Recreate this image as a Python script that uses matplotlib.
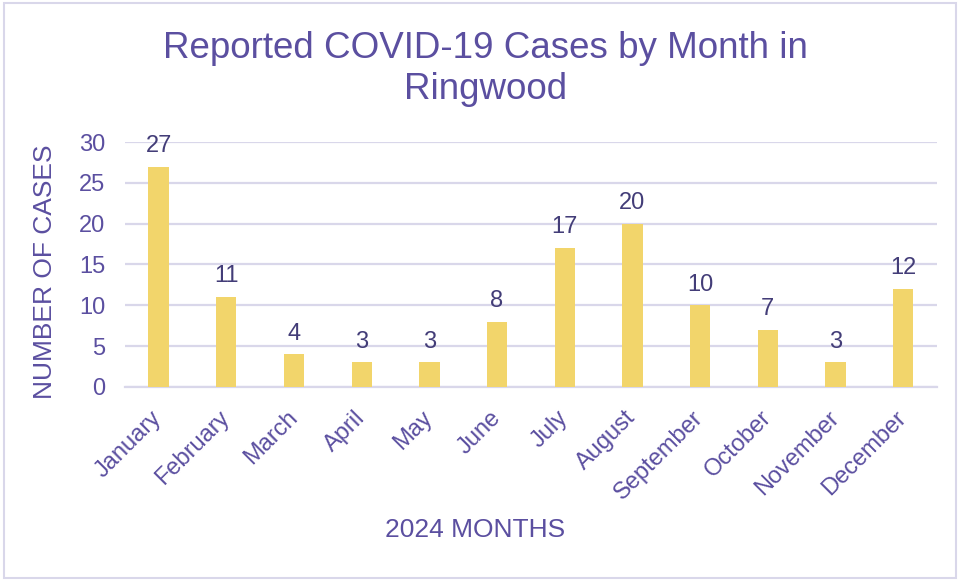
"""Bar chart of reported COVID-19 cases per month in Ringwood (2024)."""

import matplotlib
matplotlib.use("Agg")
import matplotlib.pyplot as plt
from matplotlib.patches import Rectangle

# --- data ---
months = ["January", "February", "March", "April", "May", "June", "July",
          "August", "September", "October", "November", "December"]
cases = [27, 11, 4, 3, 3, 8, 17, 20, 10, 7, 3, 12]
y_ticks = [0, 5, 10, 15, 20, 25, 30]

PURPLE = "#5b4fa0"
LABEL = "#433d78"
BAR = "#f2d56b"
GRID = "#d9d7ea"

plt.rcParams["font.family"] = ["Liberation Sans", "DejaVu Sans"]


def build_figure():
    fig = plt.figure(figsize=(9.6, 5.8), dpi=100)
    ax = fig.add_axes([0.130, 0.333, 0.846, 0.422])

    x = range(len(months))
    bars = ax.bar(x, cases, width=0.3, color=BAR, zorder=3)

    # value labels above each bar
    for rect, val in zip(bars, cases):
        ax.annotate(str(val), (rect.get_x() + rect.get_width() / 2, val),
                    xytext=(0, 7), textcoords="offset points",
                    ha="center", va="bottom", fontsize=17, color=LABEL)

    ax.set_xlim(-0.5, len(months) - 0.5)
    ax.set_ylim(0, 30)
    ax.set_yticks(y_ticks)
    ax.set_xticks(list(x))
    ax.set_xticklabels(months, rotation=45, ha="right", va="center",
                       rotation_mode="anchor")
    ax.tick_params(axis="x", length=0, pad=20, labelsize=17, labelcolor=PURPLE)
    ax.tick_params(axis="y", length=0, pad=14, labelsize=17, labelcolor=PURPLE)

    ax.grid(axis="y", color=GRID, linewidth=1.6, zorder=0)
    for side in ["top", "right", "left"]:
        ax.spines[side].set_visible(False)
    ax.spines["bottom"].set_color(GRID)
    ax.spines["bottom"].set_linewidth(1.6)

    ax.set_ylabel("NUMBER OF CASES", fontsize=19, color=PURPLE)
    ax.yaxis.set_label_coords(-0.084, 0.47)
    fig.text(0.495, 0.086, "2024 MONTHS", fontsize=19, color=PURPLE,
             ha="center", va="center")
    fig.text(0.506, 0.881, "Reported COVID-19 Cases by Month in\nRingwood",
             fontsize=26.5, color=PURPLE, ha="center", va="center",
             linespacing=1.22)

    # light frame around the whole chart
    fig.patches.append(Rectangle((0.004, 0.004), 0.992, 0.99,
                                 transform=fig.transFigure, fill=False,
                                 edgecolor=GRID, linewidth=1.5))
    return fig


def main():
    fig = build_figure()
    fig.savefig("out.png", dpi=100)
    plt.close(fig)


if __name__ == "__main__":
    main()
